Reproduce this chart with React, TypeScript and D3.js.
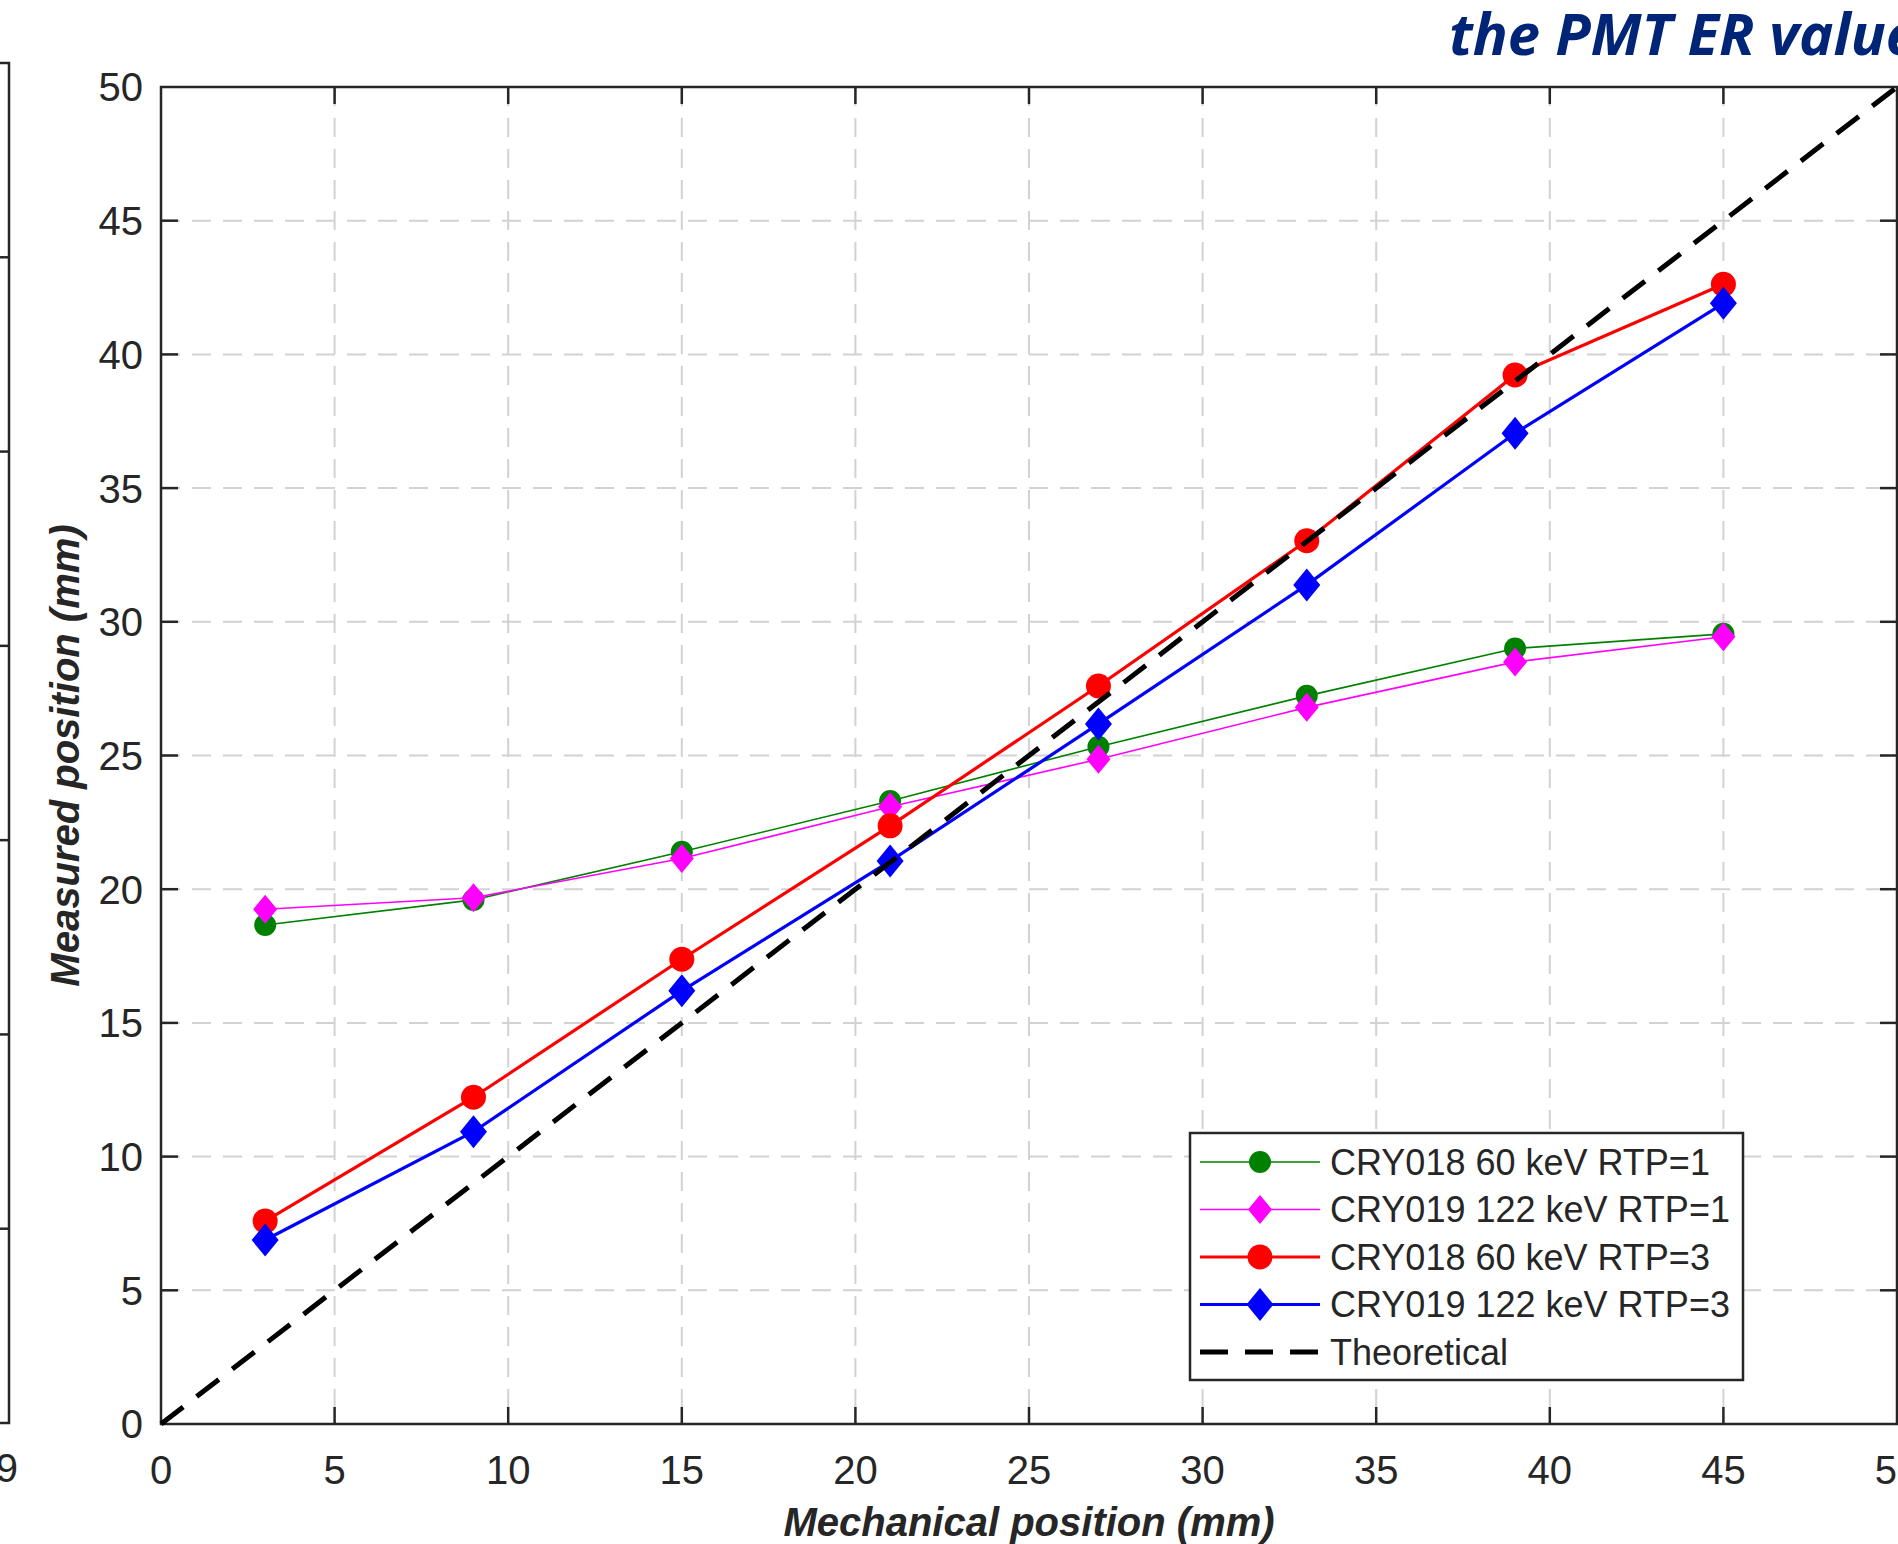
import * as d3 from "d3";

// --- dados
const mechanical = [3, 9, 15, 21, 27, 33, 39, 45];
const cry018Rtp1 = [18.66, 19.6, 21.4, 23.3, 25.33, 27.23, 29.0, 29.55];
const cry019Rtp1 = [19.25, 19.68, 21.15, 23.08, 24.86, 26.8, 28.5, 29.44];
const cry018Rtp3 = [7.59, 12.22, 17.38, 22.37, 27.6, 33.03, 39.23, 42.62];
const cry019Rtp3 = [6.88, 10.93, 16.2, 21.05, 26.18, 31.38, 37.05, 41.91];
const theoretical = [0, 50];
const axisTicks = [0, 5, 10, 15, 20, 25, 30, 35, 40, 45, 50];
const legendLabels = [
  "CRY018 60 keV RTP=1",
  "CRY019 122 keV RTP=1",
  "CRY018 60 keV RTP=3",
  "CRY019 122 keV RTP=3",
  "Theoretical",
];
// pedaço do gráfico vizinho, à esquerda
const neighbourTicks = [1, 2, 3, 4, 5, 6];

const W = 1898;
const H = 1544;
const M = { left: 161, right: 1897, top: 87, bottom: 1424 };
const FONT = "'Liberation Sans', Arial, Helvetica, sans-serif";
const INK = "#262626";

type Series = {
  name: string;
  values: number[];
  color: string;
  width: number;
  marker: "circle" | "diamond";
  rx: number;
  ry: number;
};

const series: Series[] = [
  { name: legendLabels[0], values: cry018Rtp1, color: "#008000", width: 1.6, marker: "circle", rx: 11, ry: 11 },
  { name: legendLabels[1], values: cry019Rtp1, color: "#ff00ff", width: 1.6, marker: "diamond", rx: 12, ry: 14.5 },
  { name: legendLabels[2], values: cry018Rtp3, color: "#ff0000", width: 3.2, marker: "circle", rx: 12.5, ry: 12.5 },
  { name: legendLabels[3], values: cry019Rtp3, color: "#0000ff", width: 3.2, marker: "diamond", rx: 13.5, ry: 16.5 },
];

function Marker({ s, cx, cy }: { s: Series; cx: number; cy: number }) {
  if (s.marker === "circle") return <circle cx={cx} cy={cy} r={s.rx} fill={s.color} />;
  const d = `M${cx},${cy - s.ry}L${cx + s.rx},${cy}L${cx},${cy + s.ry}L${cx - s.rx},${cy}Z`;
  return <path d={d} fill={s.color} />;
}

export default function App() {
  const x = d3.scaleLinear().domain([0, 50]).range([M.left, M.right]);
  const y = d3.scaleLinear().domain([0, 50]).range([M.bottom, M.top]);
  const yNeighbour = d3.scaleLinear().domain([0, 7]).range([1423, 63]);

  const line = d3
    .line<number>()
    .x((_, i) => x(mechanical[i]))
    .y((d) => y(d));

  const theoLine = d3
    .line<number>()
    .x((d) => x(d))
    .y((d) => y(d));

  const tickLen = 17;
  const inner = axisTicks.filter((t) => t > 0 && t < 50);

  // legenda
  const lg = { x0: 1190, y0: 1133, x1: 1743, y1: 1380 };
  const rowY = d3.scalePoint<number>().domain(d3.range(5)).range([1162, 1352]);

  return (
    <svg
      width={W}
      height={H}
      viewBox={`0 0 ${W} ${H}`}
      style={{ position: "absolute", left: 0, top: 0, display: "block", background: "#fff" }}
    >
      <rect width={W} height={H} fill="#fff" />

      {/* título cortado */}
      <text
        x={1449}
        y={55}
        fill="#002577"
        fontFamily="'Open Sans', 'Noto Sans', sans-serif"
        fontWeight="bold"
        fontStyle="italic"
        fontSize={58}
      >
        the PMT ER value
      </text>

      {/* gráfico vizinho */}
      <g stroke={INK} strokeWidth={2.5} fill="none">
        <path d={`M0,63H9V1423H0`} />
        {neighbourTicks.map((t) => (
          <line key={t} x1={0} x2={9} y1={yNeighbour(t)} y2={yNeighbour(t)} />
        ))}
      </g>
      <text x={18} y={1482} textAnchor="end" fontFamily={FONT} fontSize={40} fill={INK}>
        9
      </text>

      {/* grade */}
      <g stroke="#d2d2d2" strokeWidth={2} strokeDasharray="19,12">
        {inner.map((t) => (
          <line key={"gx" + t} x1={x(t)} x2={x(t)} y1={M.top} y2={M.bottom} />
        ))}
        {inner.map((t) => (
          <line key={"gy" + t} x1={M.left} x2={M.right} y1={y(t)} y2={y(t)} />
        ))}
      </g>

      {/* eixos e ticks */}
      <g stroke={INK} strokeWidth={2.5} fill="none">
        <rect x={M.left} y={M.top} width={M.right - M.left} height={M.bottom - M.top} />
        {inner.map((t) => (
          <g key={"t" + t}>
            <line x1={x(t)} x2={x(t)} y1={M.bottom} y2={M.bottom - tickLen} />
            <line x1={x(t)} x2={x(t)} y1={M.top} y2={M.top + tickLen} />
            <line x1={M.left} x2={M.left + tickLen} y1={y(t)} y2={y(t)} />
            <line x1={M.right} x2={M.right - tickLen} y1={y(t)} y2={y(t)} />
          </g>
        ))}
      </g>

      <g fontFamily={FONT} fontSize={40} fill={INK}>
        {axisTicks.map((t) => (
          <text key={"xl" + t} x={x(t)} y={1484} textAnchor="middle">
            {t}
          </text>
        ))}
        {axisTicks.map((t) => (
          <text key={"yl" + t} x={143} y={y(t)} dy="0.36em" textAnchor="end">
            {t}
          </text>
        ))}
      </g>

      <text
        x={(M.left + M.right) / 2}
        y={1536}
        textAnchor="middle"
        fontFamily={FONT}
        fontSize={40}
        fontWeight="bold"
        fontStyle="italic"
        fill={INK}
      >
        Mechanical position (mm)
      </text>
      <text
        transform={`translate(79,${(M.top + M.bottom) / 2}) rotate(-90)`}
        textAnchor="middle"
        fontFamily={FONT}
        fontSize={40}
        fontWeight="bold"
        fontStyle="italic"
        fill={INK}
      >
        Measured position (mm)
      </text>

      {/* séries */}
      {series.map((s) => (
        <g key={s.name}>
          <path d={line(s.values) ?? ""} fill="none" stroke={s.color} strokeWidth={s.width} />
          {s.values.map((v, i) => (
            <Marker key={i} s={s} cx={x(mechanical[i])} cy={y(v)} />
          ))}
        </g>
      ))}
      <path
        d={theoLine(theoretical) ?? ""}
        fill="none"
        stroke="#000"
        strokeWidth={5}
        strokeDasharray="28,17"
      />

      {/* legenda */}
      <rect
        x={lg.x0}
        y={lg.y0}
        width={lg.x1 - lg.x0}
        height={lg.y1 - lg.y0}
        fill="#fff"
        stroke={INK}
        strokeWidth={2.5}
      />
      {series.map((s, i) => (
        <g key={"lg" + s.name}>
          <line x1={1200} x2={1320} y1={rowY(i)} y2={rowY(i)} stroke={s.color} strokeWidth={s.width} />
          <Marker s={s} cx={1260} cy={rowY(i)!} />
        </g>
      ))}
      <line
        x1={1200}
        x2={1320}
        y1={rowY(4)}
        y2={rowY(4)}
        stroke="#000"
        strokeWidth={5}
        strokeDasharray="28,17"
      />
      <g fontFamily={FONT} fontSize={36} fill={INK}>
        {legendLabels.map((l, i) => (
          <text key={l} x={1330} y={rowY(i)} dy="0.36em">
            {l}
          </text>
        ))}
      </g>
    </svg>
  );
}
